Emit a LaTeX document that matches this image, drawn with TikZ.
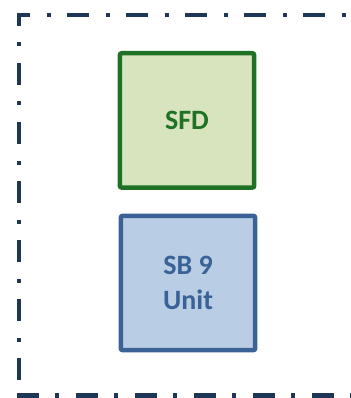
\documentclass[tikz,border=0pt]{standalone}
\usepackage{fontspec}
\setmainfont{Carlito}
\definecolor{frame}{HTML}{1F3756}
\definecolor{gborder}{HTML}{1E7125}
\definecolor{gfill}{HTML}{D8E4BD}
\definecolor{bborder}{HTML}{3A6296}
\definecolor{bfill}{HTML}{B9CDE5}
\tikzset{
  boxbase/.style={rectangle, rounded corners=2pt, line width=4.5pt, minimum width=134.4pt, minimum height=134.4pt, inner sep=0pt, align=center, font=\fontsize{28}{35}\selectfont\bfseries},
  greenbox/.style={boxbase, draw=gborder, fill=gfill, text=gborder},
  bluebox/.style={boxbase, draw=bborder, fill=bfill, text=bborder},
  frameline/.style={draw=frame, line width=4.5pt, dash pattern=on 22pt off 16.5pt on 4pt off 16.5pt, line cap=butt, line join=miter}
}
\begin{document}
\begin{tikzpicture}[x=1pt,y=-1pt]
\useasboundingbox (0,0) rectangle (350,398);
\coordinate (bl) at (19,395.5);
\coordinate (tl) at (19,15);
\coordinate (tr) at (372,15);
\coordinate (blx) at (16.75,395.5);
\coordinate (br) at (372,395.5);
\draw[frameline, dash phase=43.5pt] (bl) -- (tl) -- (tr);
\draw[frameline, dash phase=0pt] (blx) -- (br);
\node[greenbox] (sfd) at (187,120.4) {SFD};
\node[bluebox] (sb) at (188,283) {SB 9\\Unit};
\end{tikzpicture}
\end{document}
